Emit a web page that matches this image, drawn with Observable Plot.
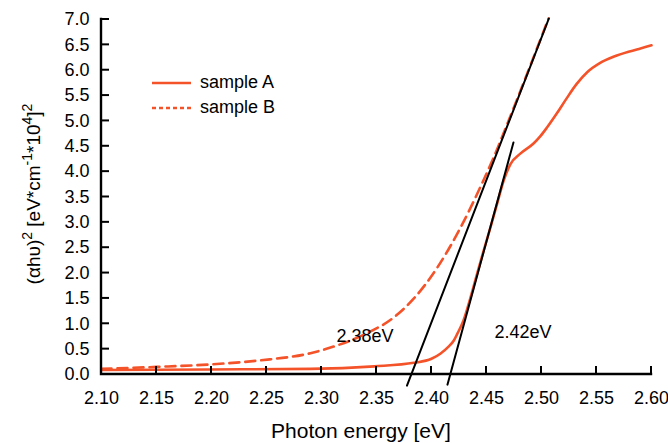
<!DOCTYPE html>
<html><head><meta charset="utf-8">
<script src="https://cdn.jsdelivr.net/npm/d3@7"></script>
<script src="https://cdn.jsdelivr.net/npm/@observablehq/plot@0.6"></script>
<style>
body{margin:0;background:#fff;}
#wrap{position:relative;width:668px;height:443px;font-family:"Liberation Sans",Arial,Helvetica,sans-serif;}
#legend{position:absolute;left:152px;top:70px;font-size:18px;color:#000;}
#legend .row{display:flex;align-items:center;height:25px;}
#legend svg{width:40px;height:6px;margin-right:8px;}
</style></head><body><div id="wrap"></div>
<script>
// Sample A (solid)
const energyA = [2.10,2.20,2.29,2.348,2.384,2.40,2.408,2.4155,2.4203,2.4234,2.429,2.4355,2.4415,2.4475,2.4536,2.4597,2.4657,2.4718,2.481,2.493,2.499,2.505,2.514,2.523,2.532,2.542,2.553,2.566,2.58,2.59,2.60];
const valueA  = [0.09,0.10,0.11,0.16,0.23,0.31,0.41,0.55,0.67,0.80,1.06,1.52,1.99,2.45,2.90,3.37,3.83,4.15,4.36,4.56,4.70,4.87,5.15,5.45,5.73,5.97,6.14,6.27,6.37,6.43,6.49];
// Sample B (dashed)
const energyB = [2.10,2.15,2.20,2.245,2.29,2.311,2.34,2.366,2.384,2.405,2.426,2.4445,2.4567,2.47,2.49,2.5064];
const valueB  = [0.11,0.15,0.20,0.28,0.42,0.55,0.80,1.13,1.50,2.10,2.88,3.70,4.29,5.00,6.10,7.02];
// tangent lines
const tangentAEnergy = [2.4145,2.4745];
const tangentAValue  = [-0.20,4.575];
const tangentBEnergy = [2.3777,2.5067];
const tangentBValue  = [-0.22,7.02];
// annotations
const noteLabels = ["2.38eV","2.42eV"];
const noteEnergy = [2.3136,2.4573];
const noteValue  = [0.75,0.83];
// ticks
const xTicks = [2.10,2.15,2.20,2.25,2.30,2.35,2.40,2.45,2.50,2.55,2.60];
const yTicks = [0,0.5,1,1.5,2,2.5,3,3.5,4,4.5,5,5.5,6,6.5,7];
const seriesNames = ["sample A","sample B"];
const orange = "#f4532a";

const dataA = energyA.map((e,i)=>({e, v:valueA[i]}));
const dataB = energyB.map((e,i)=>({e, v:valueB[i]}));
const tanA = tangentAEnergy.map((e,i)=>({e, v:tangentAValue[i]}));
const tanB = tangentBEnergy.map((e,i)=>({e, v:tangentBValue[i]}));
const notes = noteLabels.map((t,i)=>({t, e:noteEnergy[i], v:noteValue[i]}));

const W = 668, H = 443, mL = 101, mR = 17, mT = 19, mB = 69, tickLen = 8;
const xDom = [2.10, 2.60], yDom = [0, 7];

const plot = Plot.plot({
  width: W, height: H,
  marginLeft: mL, marginRight: mR, marginTop: mT, marginBottom: mB,
  style: {fontFamily: "Liberation Sans, Arial, Helvetica, sans-serif", fontSize: "18px"},
  x: {domain: xDom},
  y: {domain: yDom},
  marks: [
    Plot.axisX(xTicks, {tickSize: 0, tickPadding: 17, tickFormat: d3.format(".2f"), label: null, fontSize: 18, fill: "#000"}),
    Plot.axisY(yTicks, {tickSize: 0, tickPadding: 12, tickFormat: d3.format(".1f"), label: null, fontSize: 18, fill: "#000"}),
    Plot.line(dataB, {x: "e", y: "v", stroke: orange, strokeWidth: 2.6, strokeDasharray: "10,6", curve: "monotone-x"}),
    Plot.line(dataA, {x: "e", y: "v", stroke: orange, strokeWidth: 2.6, curve: "monotone-x"}),
    Plot.line(tanB, {x: "e", y: "v", stroke: "#000", strokeWidth: 2}),
    Plot.line(tanA, {x: "e", y: "v", stroke: "#000", strokeWidth: 2}),
    Plot.text(notes, {x: "e", y: "v", text: "t", textAnchor: "start", lineAnchor: "middle", fontSize: 18, fill: "#000"})
  ]
});

const svg = d3.select(plot);
// axis lines and inward ticks, positioned through Plot's own scales
const sx = plot.scale("x"), sy = plot.scale("y");
const X = v => sx.apply(v), Y = v => sy.apply(v);
const x0 = X(xDom[0]), x1 = X(xDom[1]), y0 = Y(yDom[0]), y1 = Y(yDom[1]);
const ax = svg.append("g").attr("fill", "none").attr("stroke", "black");
ax.append("path")
  .attr("d", `M${x0},${y1}L${x0},${y0}L${x1},${y0}`)
  .attr("stroke-width", 2.4).attr("stroke-linejoin", "miter").attr("stroke-linecap", "square");
ax.selectAll(".xt").data(xTicks).join("path").attr("class", "xt")
  .attr("d", d => `M${X(d)},${y0}L${X(d)},${y0 - tickLen}`).attr("stroke-width", 2);
ax.selectAll(".yt").data(yTicks).join("path").attr("class", "yt")
  .attr("d", d => `M${x0},${Y(d)}L${x0 + tickLen},${Y(d)}`).attr("stroke-width", 2);

// y-axis title with superscripts
const yt = svg.append("text")
  .attr("transform", "translate(40,194) rotate(-90)")
  .attr("text-anchor", "middle")
  .attr("font-size", 19)
  .attr("fill", "#000");
const parts = [["(αhυ)",0],["2",1],[" [eV*cm",0],["-1",1],["*10",0],["4",1],["]",0],["2",1]];
let prevSup = 0;
for (const [s, sup] of parts) {
  const t = yt.append("tspan").text(s);
  const shift = (sup - prevSup) * -8;
  if (shift) t.attr("dy", shift);
  if (sup) t.attr("font-size", 14);
  prevSup = sup;
}
// x-axis title
svg.append("text")
  .attr("x", 361).attr("y", 438)
  .attr("text-anchor", "middle")
  .attr("font-size", 21)
  .attr("fill", "#000")
  .text("Photon energy [eV]");

const wrap = document.getElementById("wrap");
wrap.appendChild(plot);

// legend
const legend = document.createElement("div");
legend.id = "legend";
seriesNames.forEach((name, i) => {
  const row = document.createElement("div");
  row.className = "row";
  row.innerHTML = `<svg viewBox="0 0 40 6"><line x1="0" y1="3" x2="39" y2="3" stroke="${orange}" stroke-width="2.6" ${i === 1 ? 'stroke-dasharray="4,3"' : ''}/></svg><span>${name}</span>`;
  legend.appendChild(row);
});
wrap.appendChild(legend);
</script>
</body></html>
